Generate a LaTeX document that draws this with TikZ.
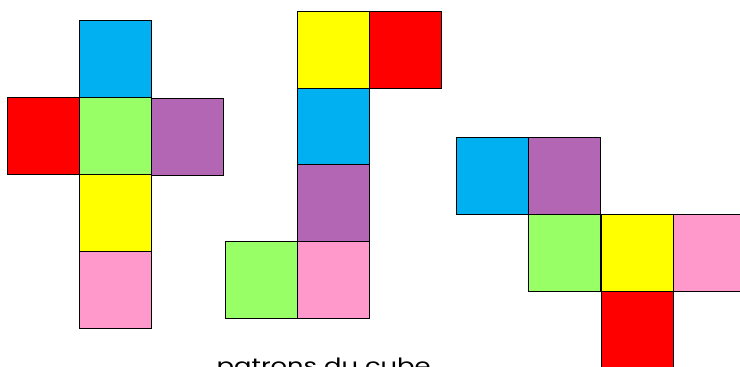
\documentclass[tikz,border=0pt]{standalone}
\usepackage{fontspec}
\newfontfamily\capfont{Poppins}
\definecolor{cblue}{HTML}{00B0F0}
\definecolor{cred}{HTML}{FF0000}
\definecolor{cgreen}{HTML}{99FF66}
\definecolor{cpurple}{HTML}{B366B3}
\definecolor{cyellow}{HTML}{FFFF00}
\definecolor{cpink}{HTML}{FF99CC}
\begin{document}
\begin{tikzpicture}[x=1pt,y=-1pt,
  face/.style={draw=black,line width=1pt,inner sep=0pt,outer sep=0pt,
    minimum width=72pt,minimum height=77pt,anchor=north west}]
\useasboundingbox (0,0) rectangle (740,367);
\clip (0,0) rectangle (740,367);
% net 1
\node[face,fill=cblue]   (a1) at (79.3,20.3) {};
\node[face,fill=cred]    (a2) at (7.3,97.5) {};
\node[face,fill=cgreen]  (a3) at (79.3,97.5) {};
\node[face,fill=cpurple] (a4) at (151.3,98.3) {};
\node[face,fill=cyellow] (a5) at (79.3,174.5) {};
\node[face,fill=cpink]   (a6) at (79.3,251.7) {};
% net 2
\node[face,fill=cyellow] (b1) at (297.3,11.3) {};
\node[face,fill=cred]    (b2) at (369.3,11.3) {};
\node[face,fill=cblue]   (b3) at (297.3,88.3) {};
\node[face,fill=cpurple] (b4) at (297.3,164.3) {};
\node[face,fill=cgreen]  (b5) at (225.3,241.3) {};
\node[face,fill=cpink]   (b6) at (297.3,241.3) {};
% net 3
\node[face,fill=cblue]   (c1) at (456.7,137.3) {};
\node[face,fill=cpurple] (c2) at (528.7,137.3) {};
\node[face,fill=cgreen]  (c3) at (528.7,214.3) {};
\node[face,fill=cyellow] (c4) at (601.3,214.3) {};
\node[face,fill=cpink]   (c5) at (673.3,214.3) {};
\node[face,fill=cred]    (c6) at (601.3,291.3) {};
% caption
\node[anchor=base,inner sep=0pt,font=\capfont\fontsize{21}{24}\selectfont] (cap) at (323.7,373) {\scalebox{1.23}[1]{patrons du cube}};
\end{tikzpicture}
\end{document}
